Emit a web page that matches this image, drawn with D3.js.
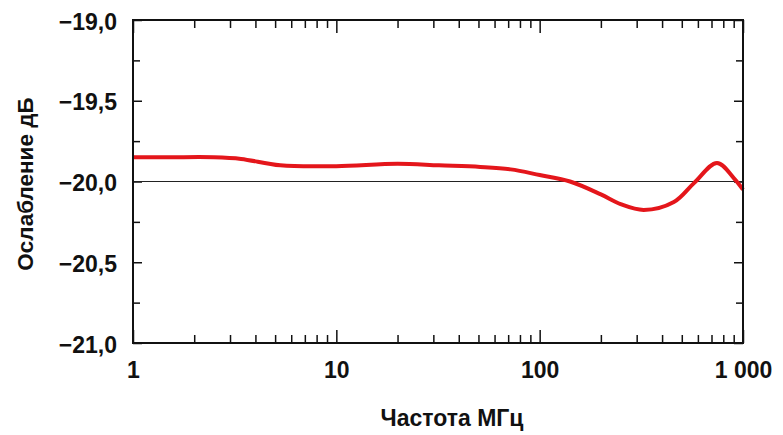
<!DOCTYPE html>
<html>
<head>
<meta charset="utf-8">
<script src="https://cdn.jsdelivr.net/npm/d3@7/dist/d3.min.js"></script>
<style>
  html, body { margin: 0; padding: 0; background: #fff; }
  svg text { font-family: "Liberation Sans", Arial, sans-serif; fill: #111; font-weight: bold; }
</style>
</head>
<body>
<svg id="chart" width="783" height="435"></svg>
<script>
// Attenuation vs frequency
const freqMHz = [1, 1.5, 2.5, 3.4, 5.3, 10, 20, 32, 51, 72, 100, 141, 200, 250, 325, 457, 574, 745, 903, 1000];
const attenuationDb = [-19.85, -19.85, -19.85, -19.86, -19.9, -19.905, -19.89, -19.9, -19.91, -19.925, -19.96, -20.0, -20.08, -20.14, -20.176, -20.127, -20.01, -19.885, -19.98, -20.05];
const xMajorTicks = [1, 10, 100, 1000];
const xTickLabels = ["1", "10", "100", "1 000"];
const yMajorTicks = [-21, -20.5, -20, -19.5, -19];
const yTickLabels = ["\u221221,0", "\u221220,5", "\u221220,0", "\u221219,5", "\u221219,0"];
const referenceLevel = -20;

const margin = { left: 133, right: 40, top: 20, bottom: 92 };
const W = 783, H = 435;
const iw = W - margin.left - margin.right;
const ih = H - margin.top - margin.bottom;

const svg = d3.select("#chart");
const g = svg.append("g").attr("transform", `translate(${margin.left},${margin.top})`);

const x = d3.scaleLog().domain([1, 1000]).range([0, iw]);
const y = d3.scaleLinear().domain([-21, -19]).range([ih, 0]);

const xMinor = [];
for (let d = 1; d < 1000; d *= 10) for (let k = 2; k <= 9; k++) xMinor.push(d * k);
const yMinor = [-20.75, -20.25, -19.75, -19.25];

function styleAxis(sel) {
  sel.select(".domain").remove();
  sel.selectAll(".tick line").attr("stroke", "#111").attr("stroke-width", 1.5);
}

// inward ticks on all four sides
const xLabelAxis = d3.axisBottom(x).tickValues(xMajorTicks).tickSize(-13).tickFormat((d, i) => xTickLabels[i]);
const yLabelAxis = d3.axisLeft(y).tickValues(yMajorTicks).tickSize(-9).tickFormat((d, i) => yTickLabels[i]);
const axes = [
  [xLabelAxis, `translate(0,${ih})`],
  [d3.axisBottom(x).tickValues(xMinor).tickSize(-8).tickFormat(""), `translate(0,${ih})`],
  [d3.axisTop(x).tickValues(xMajorTicks).tickSize(-13).tickFormat(""), null],
  [d3.axisTop(x).tickValues(xMinor).tickSize(-8).tickFormat(""), null],
  [yLabelAxis, null],
  [d3.axisLeft(y).tickValues(yMinor).tickSize(-7).tickFormat(""), null],
  [d3.axisRight(y).tickValues(yMajorTicks).tickSize(-9).tickFormat(""), `translate(${iw},0)`],
  [d3.axisRight(y).tickValues(yMinor).tickSize(-7).tickFormat(""), `translate(${iw},0)`]
];
axes.forEach(([ax, tr]) => {
  const a = g.append("g").call(ax);
  if (tr) a.attr("transform", tr);
  styleAxis(a);
  if (ax === xLabelAxis) {
    a.selectAll(".tick text").attr("font-size", 23).attr("font-weight", "bold")
      .attr("font-family", "'Liberation Sans', Arial, sans-serif").attr("fill", "#111")
      .attr("y", 19);
  }
  if (ax === yLabelAxis) {
    a.selectAll(".tick text").attr("font-size", 23).attr("font-weight", "bold")
      .attr("font-family", "'Liberation Sans', Arial, sans-serif").attr("fill", "#111")
      .attr("x", -16).attr("dy", "0.4em");
  }
});

// reference level
g.append("line")
  .attr("x1", 0).attr("x2", iw)
  .attr("y1", y(referenceLevel)).attr("y2", y(referenceLevel))
  .attr("stroke", "#222").attr("stroke-width", 1.2);

// curve
const line = d3.line()
  .x((d, i) => x(freqMHz[i]))
  .y(d => y(d))
  .curve(d3.curveCatmullRom.alpha(0.5));
g.append("path")
  .attr("d", line(attenuationDb))
  .attr("fill", "none")
  .attr("stroke", "#e4161b")
  .attr("stroke-width", 4)
  .attr("stroke-linejoin", "round");

// frame
g.append("rect")
  .attr("x", 0).attr("y", 0).attr("width", iw).attr("height", ih)
  .attr("fill", "none").attr("stroke", "#111").attr("stroke-width", 2);

// axis titles
svg.append("text")
  .attr("x", 452).attr("y", 426)
  .attr("text-anchor", "middle").attr("font-size", 23)
  .text("Частота МГц");
svg.append("text")
  .attr("transform", `translate(33,184) rotate(-90)`)
  .attr("text-anchor", "middle").attr("font-size", 22.5)
  .text("Ослабление дБ");
</script>
</body>
</html>
